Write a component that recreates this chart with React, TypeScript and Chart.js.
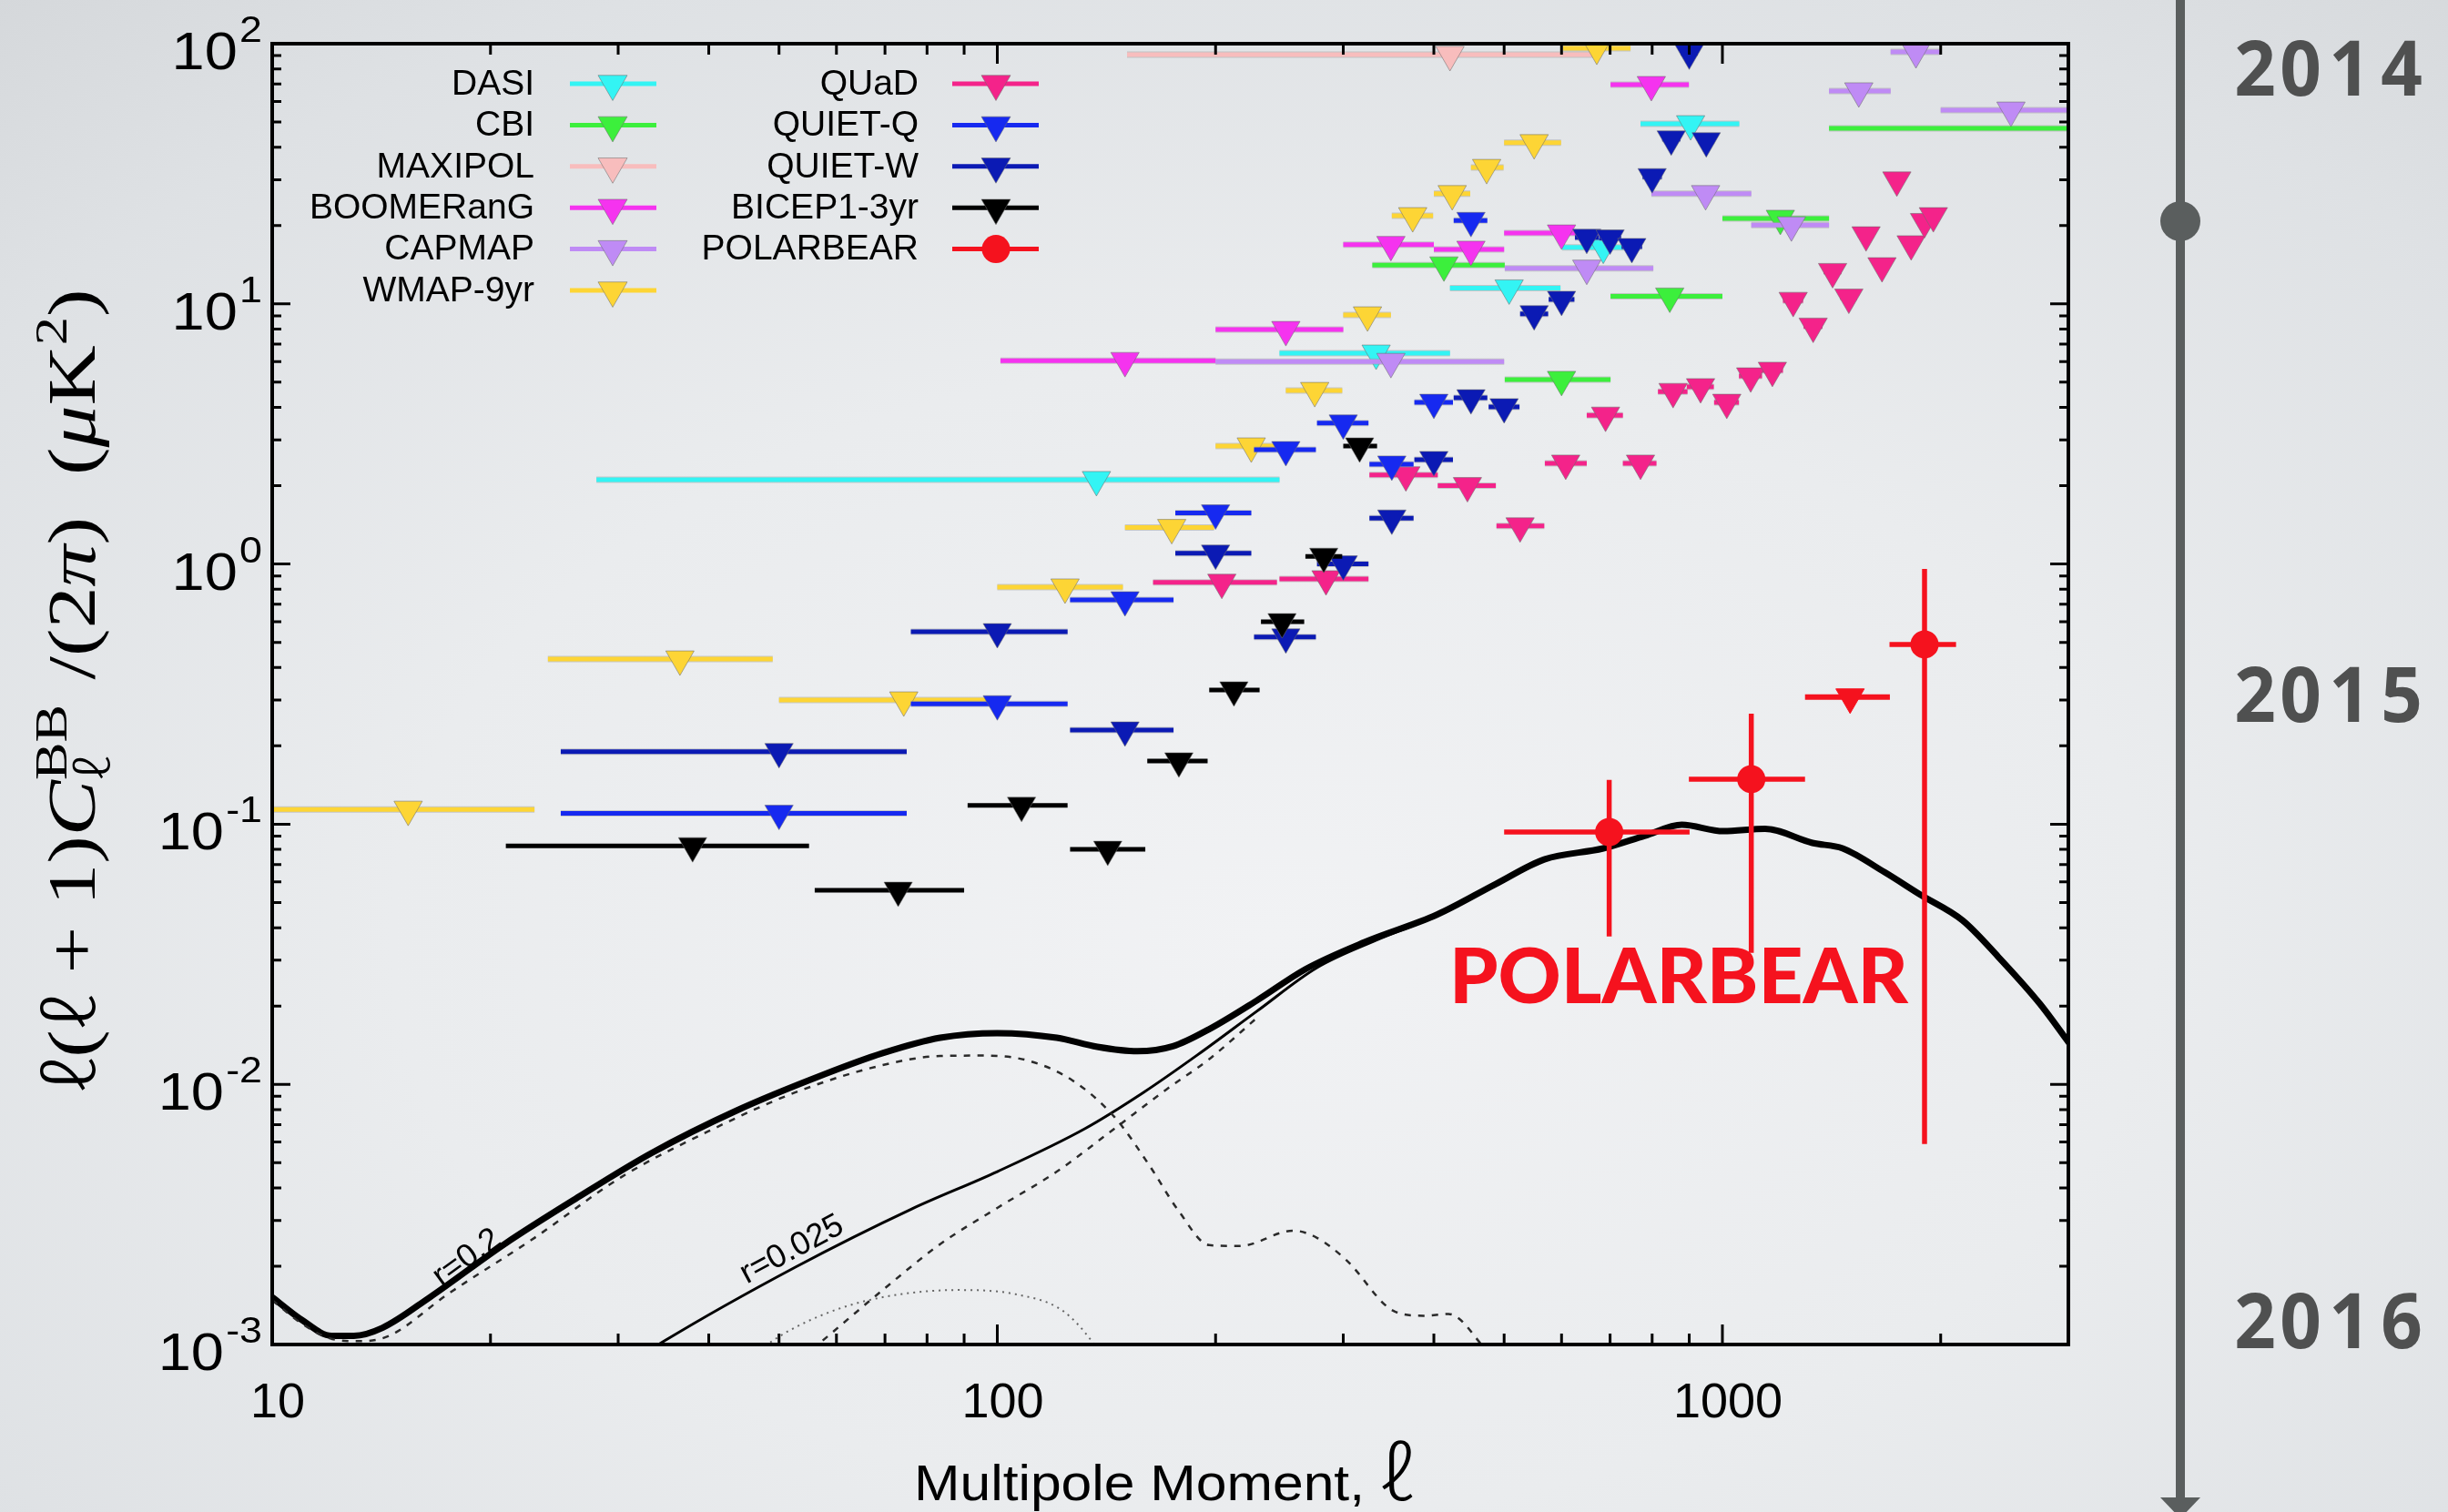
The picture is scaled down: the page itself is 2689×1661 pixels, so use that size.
import React, { useEffect, useRef } from "react";
import { Chart, registerables } from "chart.js";

Chart.register(...registerables);

const W = 2689;
const H = 1661;
const SANS = '"Liberation Sans", Arial, Helvetica, sans-serif';
const SERIF = '"Liberation Serif", "DejaVu Serif", "Times New Roman", serif';
const ELL = '"Noto Sans CJK SC", "Noto Sans", "DejaVu Sans", serif';

// ---------------- axes ----------------
const X_RANGE = [10, 3000];
const Y_RANGE = [1e-3, 100];
const X_TICK_VALUES = [10, 100, 1000];
const X_TICK_LABELS = ["10", "100", "1000"];
const Y_TICK_EXPONENTS = [-3, -2, -1, 0, 1, 2];

// ---------------- theory curves ----------------
// r=0.2 tensor + lensing (thick solid)
const THICK_L = [10, 11, 12.07, 12.96, 14.2, 16.5, 20.9, 26.2, 33.3, 43.7, 57.8, 69.5, 83.4, 100, 120.8, 137.4, 156, 174.6, 196, 228, 266, 321, 404, 487, 568, 685, 782, 879, 1003, 1145, 1331, 1465, 1673, 1876, 2143, 2399, 2741, 3014];
const THICK_V = [1.52e-3, 1.24e-3, 1.08e-3, 1.08e-3, 1.16e-3, 1.52e-3, 2.43e-3, 3.63e-3, 5.43e-3, 7.93e-3, 0.01094, 0.01318, 0.0151, 0.01574, 0.0151, 0.01393, 0.0134, 0.014, 0.0163, 0.021, 0.0277, 0.0352, 0.0449, 0.0589, 0.0732, 0.0807, 0.0903, 0.0995, 0.094, 0.096, 0.0847, 0.0807, 0.0654, 0.0535, 0.0427, 0.031, 0.0204, 0.0143];
// r=0.025 tensor + lensing (thin solid)
const THIN_L = [31, 34.7, 52.6, 76.2, 100, 132, 159, 189, 228, 276, 333, 404, 487];
const THIN_V = [8.4e-4, 1.03e-3, 1.98e-3, 3.32e-3, 4.62e-3, 6.75e-3, 9.3e-3, 0.013, 0.0191, 0.0281, 0.0358, 0.0445, 0.0585];
// lensing only (dashed)
const LENS_L = [52, 57.3, 69.5, 83.4, 100, 120.8, 145, 171, 196, 228];
const LENS_V = [8.2e-4, 1.03e-3, 1.62e-3, 2.43e-3, 3.35e-3, 4.62e-3, 6.75e-3, 9.55e-3, 0.0125, 0.018];
// r=0.2 tensor only (dashed)
const TENS02_L = [10, 11, 12.1, 13.2, 14.5, 17.4, 23.0, 30.3, 39.9, 52.6, 69.5, 83.4, 94.8, 110, 127, 145, 162, 178, 196, 216, 256, 276, 303, 353, 387, 419, 465, 490];
const TENS02_V = [1.48e-3, 1.2e-3, 1.05e-3, 1.03e-3, 1.08e-3, 1.55e-3, 2.57e-3, 4.4e-3, 6.59e-3, 9.3e-3, 0.01186, 0.01285, 0.0129, 0.01236, 0.01035, 7.5e-3, 4.89e-3, 3.25e-3, 2.41e-3, 2.39e-3, 2.74e-3, 2.57e-3, 2.11e-3, 1.34e-3, 1.29e-3, 1.31e-3, 1.0e-3, 8.0e-4];
// r=0.025 tensor only (dotted)
const TENS0025_L = [45, 48.9, 57.8, 69.5, 88.3, 106, 123, 135, 141];
const TENS0025_V = [8.5e-4, 1.03e-3, 1.31e-3, 1.52e-3, 1.62e-3, 1.56e-3, 1.35e-3, 1.03e-3, 8.5e-4];

// ---------------- experiments (95% upper limits) ----------------
const DASI_L = [137, 333, 508, 685, 904];
const DASI_V = [2.11, 6.46, 11.5, 16.5, 49.2];
const DASI_LO = [28, 245, 421, 601, 771];
const DASI_HI = [245, 421, 598, 769, 1055];

const CBI_L = [413, 600, 846, 1202, 3400];
const CBI_V = [14.1, 5.12, 10.7, 21.3, 47.3];
const CBI_LO = [329, 501, 701, 1000, 1403];
const CBI_HI = [501, 701, 1000, 1403, 5000];

const MAXIPOL_L = [421];
const MAXIPOL_V = [90.8];
const MAXIPOL_LO = [151];
const MAXIPOL_HI = [663];

const BOOM_L = [150, 250, 349, 450, 600, 798];
const BOOM_V = [6.05, 7.96, 16.9, 16.2, 18.7, 69.6];
const BOOM_LO = [101, 200, 300, 400, 500, 701];
const BOOM_HI = [200, 300, 400, 500, 700, 899];

const CAPMAP_L = [349, 650, 948, 1245, 1542, 1849, 2500];
const CAPMAP_V = [6.0, 13.7, 26.5, 20.1, 65.8, 93, 55.5];
const CAPMAP_LO = [200, 501, 798, 1096, 1403, 1706, 2000];
const CAPMAP_HI = [500, 803, 1096, 1403, 1706, 2000, 3000];

const WMAP_L = [15.4, 36.5, 74.3, 124, 174, 224, 274, 324, 374, 424, 473, 550, 671];
const WMAP_V = [0.114, 0.431, 0.3, 0.815, 1.38, 2.84, 4.64, 9.06, 21.8, 26.5, 33.4, 41.6, 96];
const WMAP_LO = [2, 24, 50, 100, 150, 200, 250, 300, 350, 400, 450, 500, 603];
const WMAP_HI = [23, 49, 99, 149, 199, 249, 299, 349, 399, 449, 499, 599, 747];

const QUAD_L = [204, 284, 366, 445, 526, 608, 690, 771, 855, 933, 1014, 1094, 1172, 1252, 1334, 1419, 1494, 1578, 1660, 1740, 1821, 1900, 1954];
const QUAD_V = [0.85, 0.877, 2.2, 2.0, 1.4, 2.44, 3.73, 2.44, 4.6, 4.8, 4.18, 5.28, 5.55, 10.3, 8.2, 13.3, 10.6, 18.4, 14.0, 29.9, 17.0, 20.7, 21.8];
const QUAD_LO = [164, 245, 326, 405, 488, 569, 650, 729, 815, 893, 974, 1054, 1132, 1212, 1294, 1379, 1454, 1538, 1620, 1700, 1781, 1860, 1914];
const QUAD_HI = [243, 325, 405, 487, 568, 650, 729, 811, 895, 973, 1054, 1134, 1212, 1292, 1374, 1459, 1534, 1618, 1700, 1780, 1861, 1940, 1994];

const QUIETQ_L = [50, 100, 150, 200, 250, 300, 350, 400, 450];
const QUIETQ_V = [0.11, 0.29, 0.728, 1.57, 2.75, 3.48, 2.42, 4.18, 20.9];
const QUIETQ_LO = [25, 76, 126, 176, 226, 276, 326, 376, 426];
const QUIETQ_HI = [75, 125, 175, 224, 275, 325, 375, 425, 474];

const QUIETW_L = [50, 100, 150, 200, 250, 300, 350, 400, 450, 500, 550, 600, 650, 700, 750, 800, 850, 900, 950];
const QUIETW_V = [0.19, 0.549, 0.23, 1.1, 0.524, 1.0, 1.5, 2.52, 4.35, 4.02, 9.15, 10.4, 18.0, 17.9, 16.6, 30.8, 43, 92, 42.3];
const QUIETW_LO = [25, 76, 126, 176, 226, 276, 326, 376, 426, 476, 526, 576, 626, 676, 726, 776, 826, 876, 926];
const QUIETW_HI = [75, 125, 175, 224, 275, 325, 375, 425, 474, 525, 575, 625, 675, 725, 775, 825, 875, 925, 975];

const BICEP_L = [38, 73, 108, 142, 178, 212, 247, 282, 316];
const BICEP_V = [0.0826, 0.0557, 0.118, 0.08, 0.175, 0.328, 0.6, 1.07, 2.84];
const BICEP_LO = [21, 56, 91, 126, 161, 196, 231, 266, 300];
const BICEP_HI = [55, 90, 125, 160, 195, 230, 265, 299, 334];

// ---------------- POLARBEAR ----------------
const PB_L = [698, 1096, 1900];
const PB_V = [0.0933, 0.149, 0.491];
const PB_LO = [500, 899, 1700];
const PB_HI = [901, 1300, 2100];
const PB_ERR_LO = [0.037, 0.032, 0.0059];
const PB_ERR_HI = [0.148, 0.266, 0.957];
const PB_UL_L = [1500];
const PB_UL_V = [0.308];
const PB_UL_LO = [1300];
const PB_UL_HI = [1702];

// ---------------- labels ----------------
const LEGEND_LEFT = ["DASI", "CBI", "MAXIPOL", "BOOMERanG", "CAPMAP", "WMAP-9yr"];
const LEGEND_RIGHT = ["QUaD", "QUIET-Q", "QUIET-W", "BICEP1-3yr", "POLARBEAR"];
const YEAR_LABELS = ["2014", "2015", "2016"];
const R_LABELS = ["r=0.2", "r=0.025"];
const ANNOTATION = "POLARBEAR";

const COLORS: Record<string, string> = {
  DASI: "#33f4f4",
  CBI: "#3cef3c",
  MAXIPOL: "#f8bdbd",
  BOOMERanG: "#f533ef",
  CAPMAP: "#bf8bf5",
  "WMAP-9yr": "#fdd535",
  QUaD: "#f4238a",
  "QUIET-Q": "#1629f0",
  "QUIET-W": "#0b1ab4",
  "BICEP1-3yr": "#000000",
  POLARBEAR: "#f5121e",
};

const LIMIT_SERIES: [string, number[], number[], number[], number[]][] = [
  ["DASI", DASI_L, DASI_V, DASI_LO, DASI_HI],
  ["CBI", CBI_L, CBI_V, CBI_LO, CBI_HI],
  ["MAXIPOL", MAXIPOL_L, MAXIPOL_V, MAXIPOL_LO, MAXIPOL_HI],
  ["BOOMERanG", BOOM_L, BOOM_V, BOOM_LO, BOOM_HI],
  ["CAPMAP", CAPMAP_L, CAPMAP_V, CAPMAP_LO, CAPMAP_HI],
  ["WMAP-9yr", WMAP_L, WMAP_V, WMAP_LO, WMAP_HI],
  ["QUaD", QUAD_L, QUAD_V, QUAD_LO, QUAD_HI],
  ["QUIET-Q", QUIETQ_L, QUIETQ_V, QUIETQ_LO, QUIETQ_HI],
  ["QUIET-W", QUIETW_L, QUIETW_V, QUIETW_LO, QUIETW_HI],
  ["BICEP1-3yr", BICEP_L, BICEP_V, BICEP_LO, BICEP_HI],
];

function curve(l: number[], v: number[]) {
  return l.map((x, i) => ({ x, y: v[i] }));
}
function binned(l: number[], v: number[], lo: number[], hi: number[]) {
  return l.map((x, i) => ({ x, y: v[i], lo: lo[i], hi: hi[i] }));
}

function lineDs(l: number[], v: number[], width: number, color: string, dash: number[]) {
  return {
    data: curve(l, v),
    showLine: true,
    borderColor: color,
    borderWidth: width,
    borderDash: dash,
    pointRadius: 0,
    pointHoverRadius: 0,
    fill: false,
    cubicInterpolationMode: "monotone",
    order: 100,
  };
}

function triangle(ctx: CanvasRenderingContext2D, x: number, y: number, r: number, fill: string) {
  ctx.beginPath();
  ctx.moveTo(x, y + r);
  ctx.lineTo(x - r * 0.866, y - r * 0.5);
  ctx.lineTo(x + r * 0.866, y - r * 0.5);
  ctx.closePath();
  ctx.fillStyle = fill;
  ctx.fill();
  ctx.lineWidth = 1;
  ctx.strokeStyle = "rgba(110,110,110,0.55)";
  ctx.stroke();
}

type Run = { t?: string; fam?: string; k?: number; it?: boolean; w?: number; dy?: number; sup?: string; sub?: string };

function runFont(size: number, fam: string, it?: boolean, w?: number) {
  return `${it ? "italic " : ""}${w ? w + " " : ""}${size}px ${fam}`;
}
function runWidth(ctx: CanvasRenderingContext2D, r: Run, size: number) {
  const fam = r.fam || SERIF;
  if (r.sup !== undefined) {
    ctx.font = runFont(size * 0.68, fam);
    const a = ctx.measureText(r.sup).width;
    ctx.font = runFont(size * 0.68, ELL, false, 300);
    const b = ctx.measureText(r.sub || "").width;
    return Math.max(a, b) + size * 0.05;
  }
  ctx.font = runFont(size * (r.k || 1), fam, r.it, r.w);
  return ctx.measureText(r.t || "").width;
}
function drawRuns(ctx: CanvasRenderingContext2D, runs: Run[], size: number, targetWidth: number) {
  const widths = runs.map((r) => runWidth(ctx, r, size));
  const total = widths.reduce((a, b) => a + b, 0);
  const k = targetWidth / total;
  ctx.save();
  ctx.scale(k, 1);
  let x = 0;
  ctx.textAlign = "left";
  ctx.textBaseline = "alphabetic";
  runs.forEach((r, i) => {
    const fam = r.fam || SERIF;
    if (r.sup !== undefined) {
      ctx.font = runFont(size * 0.68, fam);
      ctx.fillText(r.sup, x, -size * 0.42);
      ctx.font = runFont(size * 0.68, ELL, false, 300);
      ctx.fillText(r.sub || "", x, size * 0.22);
    } else {
      ctx.font = runFont(size * (r.k || 1), fam, r.it, r.w);
      ctx.fillText(r.t || "", x, (r.dy || 0) * size);
    }
    x += widths[i];
  });
  ctx.restore();
}

const Y_TITLE_RUNS: Run[] = [
  { t: "ℓ", fam: ELL, w: 300 }, { t: "(" }, { t: "ℓ", fam: ELL, w: 300 }, { t: " + 1)" }, { t: "C", it: true },
  { sup: "BB", sub: "ℓ" }, { t: " /(2" }, { t: "π", it: true }, { t: ")  (" },
  { t: "μ", it: true }, { t: "K" }, { t: "2", k: 0.68, dy: -0.42 }, { t: ")" },
];
const X_TITLE_RUNS: Run[] = [
  { t: "Multipole Moment, ", fam: SANS },
  { t: "ℓ", fam: ELL, w: 300, k: 1.45 },
];

const customPlugin = {
  id: "bbCustom",
  beforeDatasetDraw(chart: any, args: any) {
    const ds = chart.data.datasets[args.index];
    if (!ds.barColor) return;
    const ctx: CanvasRenderingContext2D = chart.ctx;
    const xs = chart.scales.x;
    const ys = chart.scales.y;
    const a = chart.chartArea;
    ctx.save();
    ctx.beginPath();
    ctx.rect(a.left, a.top, a.right - a.left, a.bottom - a.top);
    ctx.clip();
    ctx.lineCap = "butt";
    for (const p of ds.data) {
      const y = ys.getPixelForValue(p.y);
      const x1 = xs.getPixelForValue(p.lo);
      const x2 = xs.getPixelForValue(p.hi);
      if (ds.barOutline) {
        ctx.strokeStyle = ds.barOutline;
        ctx.lineWidth = ds.barWidth + 2;
        ctx.beginPath();
        ctx.moveTo(x1, y);
        ctx.lineTo(x2, y);
        ctx.stroke();
      }
      ctx.strokeStyle = ds.barColor;
      ctx.lineWidth = ds.barWidth;
      ctx.beginPath();
      ctx.moveTo(x1, y);
      ctx.lineTo(x2, y);
      ctx.stroke();
      if (p.eLo !== undefined) {
        const xc = xs.getPixelForValue(p.x);
        ctx.beginPath();
        ctx.moveTo(xc, ys.getPixelForValue(p.eLo));
        ctx.lineTo(xc, ys.getPixelForValue(p.eHi));
        ctx.stroke();
      }
    }
    ctx.restore();
  },
  afterDatasetsDraw(chart: any) {
    const ctx: CanvasRenderingContext2D = chart.ctx;
    const xs = chart.scales.x;
    const ys = chart.scales.y;
    const a = chart.chartArea;
    ctx.save();
    ctx.strokeStyle = "#000";
    ctx.lineWidth = 3;
    for (const d of [10, 100, 1000]) {
      for (let m = 1; m <= 9; m++) {
        const v = m * d;
        if (v < X_RANGE[0] || v > X_RANGE[1]) continue;
        const px = xs.getPixelForValue(v);
        const len = m === 1 ? 22 : 12;
        ctx.beginPath();
        ctx.moveTo(px, a.bottom);
        ctx.lineTo(px, a.bottom - len);
        ctx.moveTo(px, a.top);
        ctx.lineTo(px, a.top + len);
        ctx.stroke();
      }
    }
    for (let e = -3; e <= 2; e++) {
      for (let m = 1; m <= 9; m++) {
        const v = m * Math.pow(10, e);
        if (v > Y_RANGE[1] * 1.0001) continue;
        const py = ys.getPixelForValue(v);
        const len = m === 1 ? 20 : 10;
        ctx.beginPath();
        ctx.moveTo(a.left, py);
        ctx.lineTo(a.left + len, py);
        ctx.moveTo(a.right, py);
        ctx.lineTo(a.right - len, py);
        ctx.stroke();
      }
    }
    ctx.lineWidth = 4;
    ctx.strokeRect(a.left, a.top, a.right - a.left, a.bottom - a.top);
    ctx.restore();
  },
  afterDraw(chart: any) {
    const ctx: CanvasRenderingContext2D = chart.ctx;
    const xs = chart.scales.x;
    const ys = chart.scales.y;
    ctx.save();
    ctx.fillStyle = "#000";

    // x tick labels
    ctx.font = `54px ${SANS}`;
    ctx.textAlign = "center";
    ctx.textBaseline = "alphabetic";
    X_TICK_VALUES.forEach((v, i) => {
      ctx.fillText(X_TICK_LABELS[i], xs.getPixelForValue(v) + 6, 1557);
    });

    // y tick labels 10^n
    Y_TICK_EXPONENTS.forEach((e) => {
      const py = ys.getPixelForValue(Math.pow(10, e));
      const expStr = e < 0 ? "-" + String(-e) : String(e);
      ctx.save();
      ctx.translate(288, 0);
      ctx.scale(1.12, 1);
      ctx.textAlign = "right";
      ctx.font = `40px ${SANS}`;
      const ew = ctx.measureText(expStr).width;
      ctx.fillText(expStr, 0, py - 2);
      ctx.font = `58px ${SANS}`;
      ctx.fillText("10", -ew - 2, py + 28);
      ctx.restore();
    });

    // y title (rotated)
    ctx.save();
    ctx.translate(104, 759 + 883 / 2);
    ctx.rotate(-Math.PI / 2);
    drawRuns(ctx, Y_TITLE_RUNS, 74, 883);
    ctx.restore();

    // x title
    ctx.save();
    ctx.translate(1004, 1648);
    drawRuns(ctx, X_TITLE_RUNS, 56, 549);
    ctx.restore();

    // r labels
    ctx.font = `36px ${SANS}`;
    ctx.textAlign = "center";
    ctx.textBaseline = "middle";
    ctx.save();
    ctx.translate(513, 1382);
    ctx.rotate((-36 * Math.PI) / 180);
    ctx.fillText(R_LABELS[0], 0, 0);
    ctx.restore();
    ctx.save();
    ctx.translate(870, 1373);
    ctx.rotate((-28 * Math.PI) / 180);
    ctx.fillText(R_LABELS[1], 0, 0);
    ctx.restore();

    // legend
    const rowY = (i: number) => 92 + i * 45.4;
    const legendRow = (name: string, textRight: number, b1: number, b2: number, mx: number, y: number) => {
      ctx.fillStyle = "#000";
      ctx.font = `39px ${SANS}`;
      ctx.textAlign = "right";
      ctx.textBaseline = "middle";
      ctx.fillText(name, textRight, y + 1);
      ctx.strokeStyle = COLORS[name];
      ctx.lineWidth = 5;
      ctx.beginPath();
      ctx.moveTo(b1, y);
      ctx.lineTo(b2, y);
      ctx.stroke();
      if (name === "POLARBEAR") {
        ctx.fillStyle = COLORS[name];
        ctx.beginPath();
        ctx.arc(mx, y, 15.5, 0, Math.PI * 2);
        ctx.fill();
      } else {
        triangle(ctx, mx, y, 18.5, COLORS[name]);
      }
    };
    LEGEND_LEFT.forEach((n, i) => legendRow(n, 587, 626, 721, 673, rowY(i)));
    LEGEND_RIGHT.forEach((n, i) => legendRow(n, 1009, 1046, 1141, 1094, rowY(i)));

    // POLARBEAR annotation
    ctx.fillStyle = COLORS.POLARBEAR;
    ctx.font = `900 84px Lato, "Open Sans", ${SANS}`;
    ctx.textAlign = "left";
    ctx.textBaseline = "alphabetic";
    const aw = ctx.measureText(ANNOTATION).width;
    ctx.save();
    ctx.translate(1592, 1102);
    ctx.scale(504 / aw, 1);
    ctx.fillText(ANNOTATION, 0, 0);
    ctx.restore();

    // timeline
    ctx.fillStyle = "#5a5e5e";
    ctx.fillRect(2390, 0, 10, 1650);
    ctx.beginPath();
    ctx.arc(2395, 243, 22, 0, Math.PI * 2);
    ctx.fill();
    ctx.beginPath();
    ctx.moveTo(2373, 1645);
    ctx.lineTo(2417, 1645);
    ctx.lineTo(2395, 1668);
    ctx.closePath();
    ctx.fill();

    // years
    const charX = [2477, 2527, 2581, 2638];
    const yearY = [75, 763, 1451];
    ctx.fillStyle = "#4f5050";
    ctx.font = `bold 84px "Open Sans", Lato, ${SANS}`;
    ctx.textAlign = "center";
    ctx.textBaseline = "alphabetic";
    YEAR_LABELS.forEach((yr, j) => {
      yr.split("").forEach((ch, i) => {
        ctx.save();
        ctx.translate(charX[i], yearY[j] + 30);
        ctx.scale(0.95, 1);
        ctx.fillText(ch, 0, 0);
        ctx.restore();
      });
    });
    ctx.restore();
  },
};

function buildDatasets() {
  const ds: any[] = [
    lineDs(TENS0025_L, TENS0025_V, 2, "#666", [2, 5]),
    lineDs(TENS02_L, TENS02_V, 2.5, "#2a2a2a", [7, 8]),
    lineDs(LENS_L, LENS_V, 2.5, "#2a2a2a", [7, 8]),
    lineDs(THIN_L, THIN_V, 3, "#000", []),
    lineDs(THICK_L, THICK_V, 7, "#000", []),
  ];
  LIMIT_SERIES.forEach(([name, l, v, lo, hi], i) => {
    ds.push({
      label: name,
      data: binned(l, v, lo, hi),
      showLine: false,
      pointStyle: "triangle",
      pointRotation: 180,
      rotation: 180,
      pointRadius: 18,
      pointHoverRadius: 18,
      pointBackgroundColor: COLORS[name],
      pointBorderColor: "rgba(110,110,110,0.55)",
      pointBorderWidth: 1,
      barColor: COLORS[name],
      barWidth: 5,
      barOutline: name === "BICEP1-3yr" ? undefined : "rgba(150,150,150,0.45)",
      order: 50 - i,
    });
  });
  ds.push({
    label: "POLARBEAR limit",
    data: binned(PB_UL_L, PB_UL_V, PB_UL_LO, PB_UL_HI),
    showLine: false,
    pointStyle: "triangle",
    pointRotation: 180,
    rotation: 180,
    pointRadius: 18,
    pointHoverRadius: 18,
    pointBackgroundColor: COLORS.POLARBEAR,
    pointBorderColor: COLORS.POLARBEAR,
    pointBorderWidth: 1,
    barColor: COLORS.POLARBEAR,
    barWidth: 6,
    order: 2,
  });
  ds.push({
    label: "POLARBEAR",
    data: PB_L.map((x, i) => ({ x, y: PB_V[i], lo: PB_LO[i], hi: PB_HI[i], eLo: PB_ERR_LO[i], eHi: PB_ERR_HI[i] })),
    showLine: false,
    pointStyle: "circle",
    pointRadius: 15.5,
    pointHoverRadius: 15.5,
    pointBackgroundColor: COLORS.POLARBEAR,
    pointBorderColor: COLORS.POLARBEAR,
    pointBorderWidth: 0,
    barColor: COLORS.POLARBEAR,
    barWidth: 5.5,
    order: 1,
  });
  return ds;
}

export default function App() {
  const ref = useRef<HTMLCanvasElement>(null);
  useEffect(() => {
    const canvas = ref.current;
    if (!canvas) return;
    const chart = new Chart(canvas, {
      type: "scatter",
      data: { datasets: buildDatasets() },
      options: {
        responsive: false,
        devicePixelRatio: 1,
        animation: false,
        events: [],
        layout: { padding: { left: 299, top: 48, right: W - 2272, bottom: H - 1477 } },
        plugins: { legend: { display: false }, tooltip: { enabled: false } },
        scales: {
          x: { type: "logarithmic", min: X_RANGE[0], max: X_RANGE[1], display: false },
          y: { type: "logarithmic", min: Y_RANGE[0], max: Y_RANGE[1], display: false },
        },
      } as any,
      plugins: [customPlugin as any],
    });
    return () => chart.destroy();
  }, []);
  return (
    <div
      style={{
        position: "absolute",
        left: 0,
        top: 0,
        width: W,
        height: H,
        overflow: "hidden",
        background:
          "radial-gradient(ellipse 80% 85% at 52% 62%, #f1f2f4 0%, #eaecee 45%, #dee1e4 80%, #d4d7da 100%)",
      }}
    >
      <canvas ref={ref} width={W} height={H} style={{ display: "block", width: W, height: H }} />
    </div>
  );
}
